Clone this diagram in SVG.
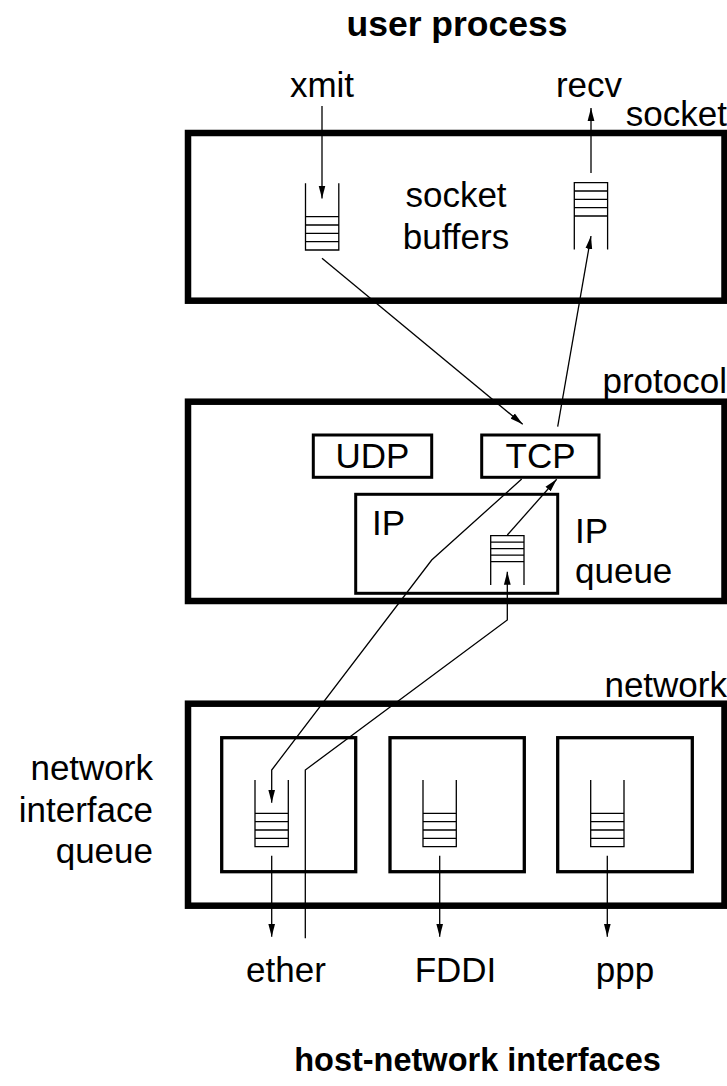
<svg xmlns="http://www.w3.org/2000/svg" xmlns:xlink="http://www.w3.org/1999/xlink" width="727" height="1086" viewBox="0 0 727 1086">
  <style>
    text { font-family: "Liberation Sans", Arial, sans-serif; font-size: 35px; fill: #000; }
    .title { font-weight: bold; }
    .layer { fill: none; stroke: #000; stroke-width: 6.5; }
    .box { fill: none; stroke: #000; stroke-width: 3; }
    .iface { fill: none; stroke: #000; stroke-width: 3.3; }
    .queue { fill: none; stroke: #000; stroke-width: 1.3; }
    .link { fill: none; stroke: #000; stroke-width: 1.3; marker-end: url(#arrow); }
  </style>
  <defs>
    <marker id="arrow" markerUnits="userSpaceOnUse" markerWidth="13" markerHeight="8" refX="13" refY="4" orient="auto">
      <path d="M0,0.6 L13,4 L0,7.4 z" fill="#000"/>
    </marker>
    <!-- queue filled from the bottom, open at the top -->
    <path id="queue-in" class="queue" d="M0,0 V66.7 H33.3 V0 M0,33.3 H33.3 M0,41.7 H33.3 M0,50 H33.3 M0,58.3 H33.3"/>
    <!-- queue filled from the top, open at the bottom -->
    <path id="queue-out" class="queue" d="M0,66.7 V0 H33.3 V66.7 M0,8.3 H33.3 M0,16.7 H33.3 M0,25 H33.3 M0,33.3 H33.3"/>
  </defs>

  <rect width="727" height="1086" fill="#fff"/>

  <!-- headings -->
  <text class="title" x="457" y="36" text-anchor="middle" style="font-size:35.5px">user process</text>
  <text class="title" x="477.5" y="1071" text-anchor="middle" style="font-size:32.5px">host-network interfaces</text>

  <!-- socket layer -->
  <g id="socket-layer">
    <rect class="layer" x="188" y="133" width="536.5" height="167.7"/>
    <text x="727" y="126" text-anchor="end">socket</text>
    <text x="322" y="97" text-anchor="middle">xmit</text>
    <text x="589" y="97" text-anchor="middle">recv</text>
    <text x="456" y="207" text-anchor="middle">socket</text>
    <text x="456" y="249" text-anchor="middle">buffers</text>
  </g>
  <g id="send-buffer"><use xlink:href="#queue-in" href="#queue-in" x="305.5" y="183.3"/></g>
  <g id="recv-buffer"><use xlink:href="#queue-out" href="#queue-out" x="574.3" y="182.7"/></g>

  <!-- protocol layer -->
  <g id="protocol-layer">
    <rect class="layer" x="188" y="401.7" width="536.5" height="199.3"/>
    <text x="727" y="393" text-anchor="end">protocol</text>
  </g>
  <g id="udp">
    <rect class="box" x="313.3" y="435" width="118.4" height="42.3"/>
    <text x="372.5" y="468.3" text-anchor="middle">UDP</text>
  </g>
  <g id="tcp">
    <rect class="box" x="481.7" y="435" width="117.3" height="42.3"/>
    <text x="540.5" y="468.3" text-anchor="middle">TCP</text>
  </g>
  <g id="ip">
    <rect class="box" x="355.7" y="494.3" width="202" height="99"/>
    <text x="372" y="535">IP</text>
  </g>
  <g id="ip-queue">
    <path class="queue" d="M490.7,585 V535.7 H524 V585 M490.7,542.2 H524 M490.7,548.7 H524 M490.7,555.2 H524 M490.7,561.7 H524"/>
    <text x="575" y="543.3">IP</text>
    <text x="575" y="583">queue</text>
  </g>

  <!-- network layer -->
  <g id="network-layer">
    <rect class="layer" x="188" y="703.7" width="536.5" height="202"/>
    <text x="727" y="697" text-anchor="end">network</text>
    <text x="153" y="779.5" text-anchor="end">network</text>
    <text x="153" y="821.5" text-anchor="end">interface</text>
    <text x="153" y="863" text-anchor="end">queue</text>
  </g>
  <g id="if-ether">
    <rect class="iface" x="221.7" y="737.7" width="134" height="134"/>
    <use xlink:href="#queue-in" href="#queue-in" x="255" y="780"/>
    <text x="286" y="981.7" text-anchor="middle">ether</text>
  </g>
  <g id="if-fddi">
    <rect class="iface" x="390" y="737.7" width="134.3" height="134"/>
    <use xlink:href="#queue-in" href="#queue-in" x="423" y="780"/>
    <text x="455.5" y="981.7" text-anchor="middle">FDDI</text>
  </g>
  <g id="if-ppp">
    <rect class="iface" x="557.7" y="737.7" width="134.6" height="134"/>
    <use xlink:href="#queue-in" href="#queue-in" x="590.7" y="780"/>
    <text x="625" y="981.7" text-anchor="middle">ppp</text>
  </g>

  <!-- data paths -->
  <g id="connectors">
    <path class="link" d="M322,106 V198.5"/>
    <path class="link" d="M591,173 V108"/>
    <path class="link" d="M322,258.3 L522.7,424.3"/>
    <path class="link" d="M557.7,426.7 Q580,300 591,236"/>
    <path class="link" d="M521.7,479 L431.7,560 L271.7,770 V802.7"/>
    <path class="link" d="M305.3,938.3 V770 L507.3,620 V571.7"/>
    <path class="link" d="M507.3,535 L556.7,479.3"/>
    <path class="link" d="M271.7,855.7 V936.7"/>
    <path class="link" d="M439.7,855.7 V936.7"/>
    <path class="link" d="M607.3,855.7 V936.7"/>
  </g>
</svg>
